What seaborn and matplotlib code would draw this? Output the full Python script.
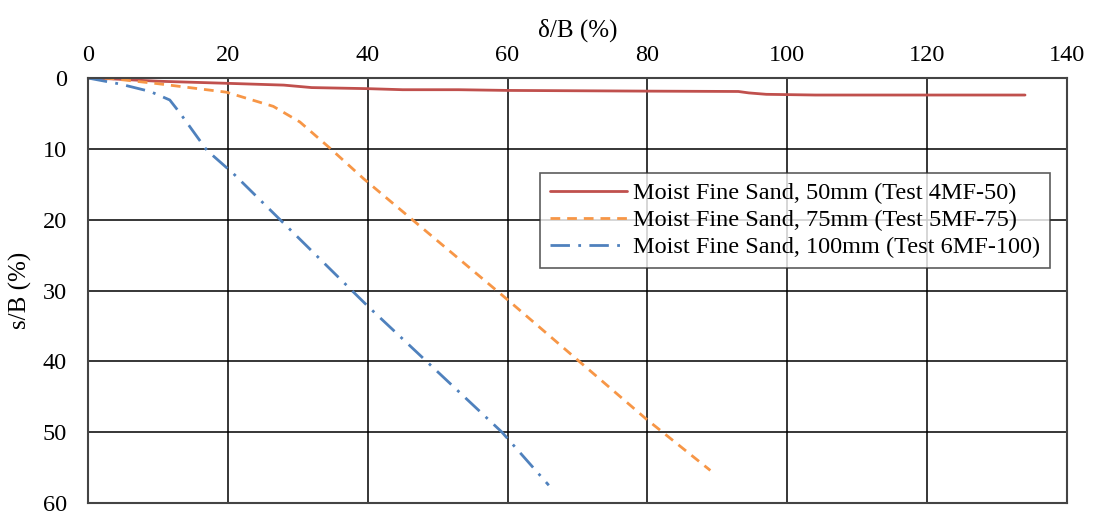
import matplotlib
matplotlib.use('Agg')
import matplotlib.pyplot as plt
import seaborn as sns
import pandas as pd

# (delta/B %, s/B %)
x_50 = [0, 3, 10, 20, 28, 32, 40, 45, 53, 60, 80, 93, 94.5, 97, 104, 120, 134]
y_50 = [0, 0.1, 0.45, 0.75, 1.0, 1.35, 1.5, 1.65, 1.65, 1.75, 1.85, 1.9, 2.1, 2.3, 2.4, 2.4, 2.4]

x_75 = [0, 3.1, 10, 19.8, 26.5, 30.3, 34.6, 39.4, 60, 79.9, 89.0]
y_75 = [0, 0.05, 0.8, 2.0, 4.0, 6.2, 9.9, 14.2, 31.3, 48.2, 55.4]

x_100 = [0, 4.6, 8.9, 11.7, 13.2, 17.0, 20.8, 40, 59.2, 65.9]
y_100 = [0, 0.85, 1.9, 3.1, 5.0, 10.2, 13.5, 32.2, 50.0, 57.5]

labels = ['Moist Fine Sand, 50mm (Test 4MF-50)',
          'Moist Fine Sand, 75mm (Test 5MF-75)',
          'Moist Fine Sand, 100mm (Test 6MF-100)']
colors = ['#C0504D', '#F79646', '#4F81BD']
dashes = ['-', (0, (3.5, 2.5)), (0, (7, 3, 1, 3))]

sns.set_style('white')
plt.rcParams['font.family'] = ['Liberation Serif', 'DejaVu Serif']
plt.rcParams['text.color'] = 'black'
plt.rcParams['axes.labelcolor'] = 'black'
plt.rcParams['xtick.color'] = 'black'
plt.rcParams['ytick.color'] = 'black'

fig = plt.figure(figsize=(10.94, 5.14), dpi=100)
ax = fig.add_axes([0.0804, 0.0214, 0.8949, 0.8268])

series = [(x_50, y_50), (x_75, y_75), (x_100, y_100)]
for (xs, ys), lab, col, ls in zip(series, labels, colors, dashes):
    df = pd.DataFrame({'x': xs, 'y': ys})
    sns.lineplot(data=df, x='x', y='y', ax=ax, color=col, linewidth=2,
                 linestyle=ls, label=lab, sort=False, estimator=None)

ax.set_xlim(0, 140)
ax.set_ylim(60, 0)
ax.set_xticks(range(0, 141, 20))
ax.set_yticks(range(0, 61, 10))
ax.xaxis.tick_top()
ax.xaxis.set_label_position('top')
ax.set_xlabel('δ/B (%)', fontsize=18, labelpad=6)
ax.set_ylabel('s/B (%)', fontsize=18, labelpad=8)
ax.tick_params(axis='x', length=0, labelsize=17.5, pad=9)
ax.tick_params(axis='y', length=0, labelsize=17.5, pad=15)
ax.grid(True, color='black', linewidth=1.1)
for s in ax.spines.values():
    s.set_color('#444444')
    s.set_linewidth(1.5)

leg = ax.legend(loc='upper right', bbox_to_anchor=(0.983, 0.777), borderaxespad=0,
                fontsize=17.5, frameon=True, fancybox=False, edgecolor='#333333',
                handlelength=3.2, handletextpad=0.25, labelspacing=0.2, borderpad=0.4)
leg.get_frame().set_linewidth(1.2)

plt.savefig('out.png', dpi=100)
plt.close()
